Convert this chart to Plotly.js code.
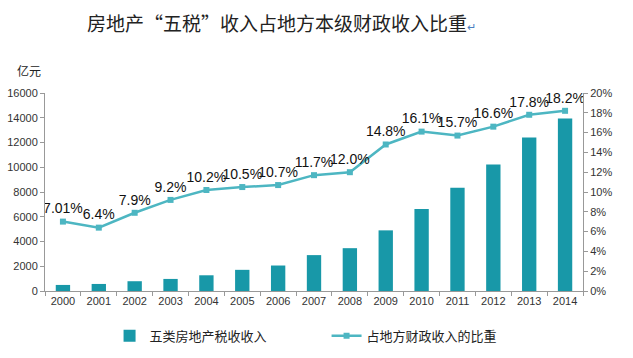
<!DOCTYPE html>
<html><head><meta charset="utf-8">
<script src="https://cdn.plot.ly/plotly-3.0.1.min.js"></script>
<style>html,body{margin:0;padding:0;background:#fff}#chart{width:633px;height:358px}</style>
</head><body><div id="chart"></div>
<script>
const years = ['2000','2001','2002','2003','2004','2005','2006','2007','2008','2009','2010','2011','2012','2013','2014'];
const taxRevenue = [490, 570, 790, 975, 1270, 1710, 2060, 2900, 3460, 4900, 6630, 8340, 10230, 12400, 13940];
const sharePct = [7.01, 6.4, 7.9, 9.2, 10.2, 10.5, 10.7, 11.7, 12.0, 14.8, 16.1, 15.7, 16.6, 17.8, 18.2];
const shareLabels = ['7.01%','6.4%','7.9%','9.2%','10.2%','10.5%','10.7%','11.7%','12.0%','14.8%','16.1%','15.7%','16.6%','17.8%','18.2%'];
const leftTicks = [0,2000,4000,6000,8000,10000,12000,14000,16000];
const rightTicks = [0,2,4,6,8,10,12,14,16,18,20];

const cjk = '"Noto Sans CJK SC", "Noto Sans", sans-serif';
const latin = '"Liberation Sans", Arial, sans-serif';

const data = [
  {type:'bar', x: years, y: taxRevenue, name:'五类房地产税收收入',
   marker:{color:'#1898A8'}, width:0.4},
  {type:'scatter', mode:'lines+markers+text', x: years, y: sharePct, yaxis:'y2',
   name:'占地方财政收入的比重', text: shareLabels, textposition:'top center',
   textfont:{family:latin, size:14, color:'#111'},
   line:{color:'#4DB6C2', width:2.5}, marker:{symbol:'square', size:6, color:'#4DB6C2'}}
];

const layout = {
  width:633, height:358,
  margin:{l:45, r:50, t:93, b:67, autoexpand:false},
  paper_bgcolor:'#fff', plot_bgcolor:'#fff',
  showlegend:true,
  legend:{orientation:'h', x:0.12, xanchor:'left', yref:'container', y:0.062, yanchor:'middle',
    font:{family:cjk, size:13, color:'#222'}, itemwidth:30, entrywidth:172, tracegroupgap:0},
  xaxis:{type:'category', showline:true, linecolor:'#999', ticks:'outside', ticklen:4, tickcolor:'#999',
    tickson:'boundaries', tickfont:{family:latin, size:11, color:'#333'}, showgrid:false, range:[-0.5,14.5]},
  yaxis:{range:[0,16000], tickvals:leftTicks, ticktext:leftTicks.map(v=>String(v)), showline:true, linecolor:'#999', ticks:'outside', ticklen:4, tickcolor:'#999',
    tickfont:{family:latin, size:11, color:'#333'}, showgrid:false, zeroline:false},
  yaxis2:{range:[0,20], tickvals:rightTicks, ticktext:rightTicks.map(v=>v+'%'), overlaying:'y', side:'right',
    showline:true, linecolor:'#999', ticks:'outside', ticklen:4, tickcolor:'#999',
    tickfont:{family:latin, size:11, color:'#333'}, showgrid:false, zeroline:false},
  annotations:[
    {text:'房地产“五税”收入占地方本级财政收入比重<span style="color:#4a7fc0;font-size:11px">↵</span>', xref:'paper', yref:'paper', x:0.074, xanchor:'left', y:1.0, yanchor:'bottom',
     yshift:55, showarrow:false, font:{family:cjk, size:19, color:'#222'}},
    {text:'亿元', xref:'paper', yref:'paper', x:-0.055, xanchor:'left', y:1.0, yanchor:'bottom', yshift:12,
     showarrow:false, font:{family:cjk, size:12, color:'#222'}}
  ]
};
Plotly.newPlot('chart', data, layout, {displayModeBar:false, staticPlot:true});
</script></body></html>
